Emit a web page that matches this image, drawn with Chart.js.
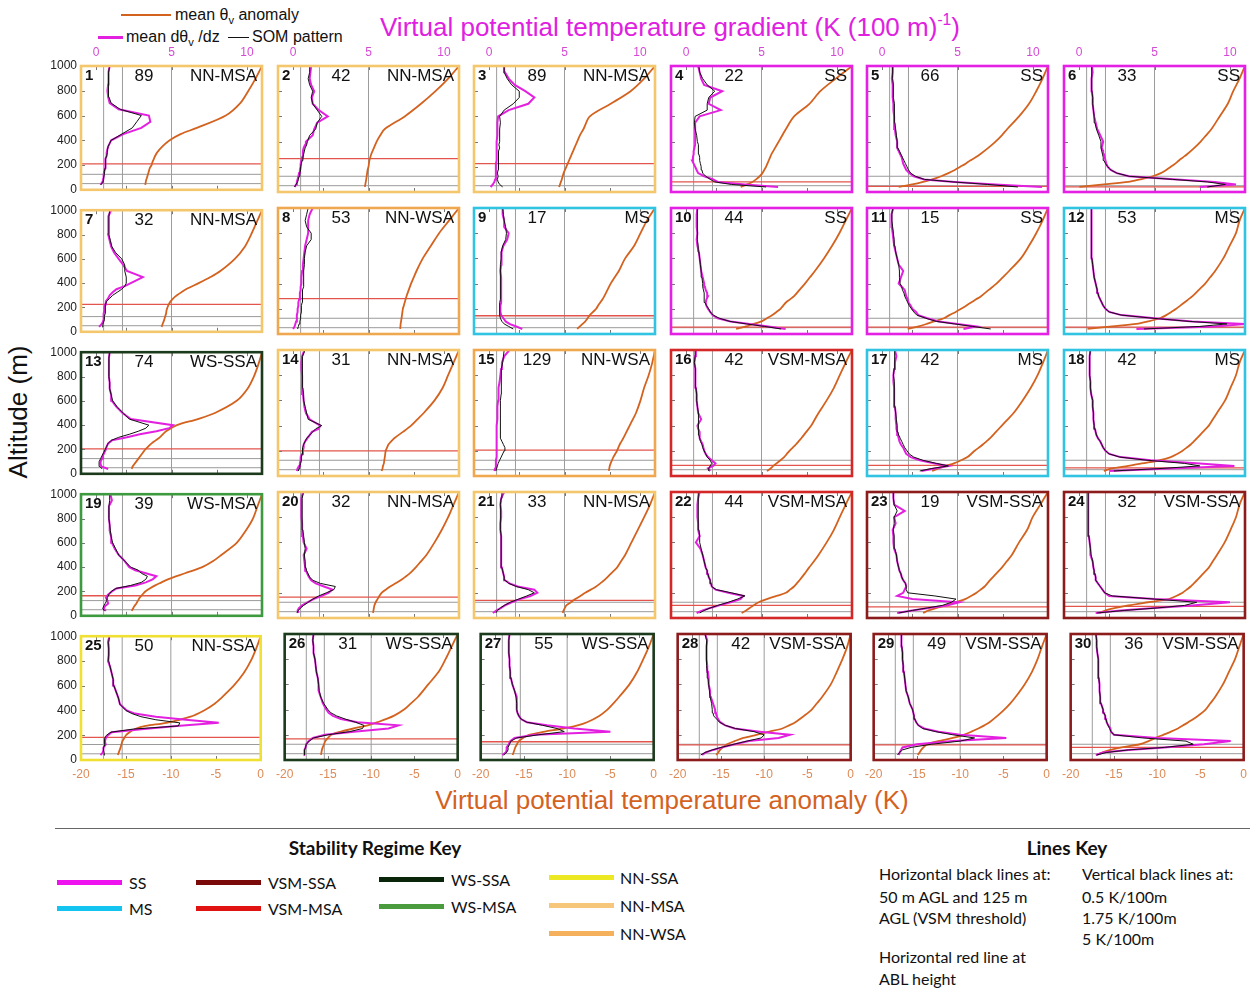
<!DOCTYPE html>
<html>
<head>
<meta charset="utf-8">
<title>Virtual potential temperature SOM profiles</title>
<script src="https://cdn.jsdelivr.net/npm/chart.js@4.4.1/dist/chart.umd.min.js"></script>
<style>
  html, body { margin: 0; padding: 0; background: #fff; }
  body { position: relative; width: 1250px; height: 989px; overflow: hidden; font-family: "Liberation Sans", Arial, sans-serif; color: #111; }
  .txt { position: absolute; white-space: nowrap; line-height: 1; }
  .mid { transform: translateY(-50%); }
  .ctr { transform: translate(-50%, -50%); }
  .swatch { position: absolute; }
  canvas.panel { position: absolute; }
  .key { font-family: Lato, "Open Sans", sans-serif; font-size: 16px; }
  .keyhead { font-family: Lato, "Open Sans", sans-serif; font-size: 19px; font-weight: bold; }
  sub { font-size: 0.7em; vertical-align: -0.4em; line-height: 0; }
  sup { font-size: 0.6em; vertical-align: 0.7em; line-height: 0; }
</style>
</head>
<body>

<!-- top legend -->
<div class="swatch" style="left:121px;top:14px;width:50px;height:2px;background:#d4621f;"></div>
<div class="txt mid" style="left:175px;top:15px;font-size:16px;">mean θ<sub>v</sub> anomaly</div>
<div class="swatch" style="left:98px;top:36px;width:25px;height:3px;background:#e31fe0;"></div>
<div class="txt mid" style="left:126px;top:37px;font-size:16px;">mean dθ<sub>v</sub> /dz</div>
<div class="swatch" style="left:228px;top:37px;width:21px;height:1px;background:#111;"></div>
<div class="txt mid" style="left:252px;top:37px;font-size:16px;">SOM pattern</div>

<div class="txt" style="left:380px;top:14px;font-size:26px;color:#e020e0;">Virtual potential temperature gradient (K (100 m)<sup>-1</sup>)</div>
<div class="txt ctr" style="left:18px;top:412px;font-size:26px;transform:translate(-50%,-50%) rotate(-90deg);">Altitude (m)</div>
<div class="txt ctr" style="left:672px;top:800px;font-size:26px;color:#d4621f;">Virtual potential temperature anomaly (K)</div>

<!-- keys -->
<div class="swatch" style="left:55px;top:828px;width:1195px;height:1px;background:#666;"></div>
<div class="txt ctr keyhead" style="left:375px;top:847px;">Stability Regime Key</div>
<div id="regimeKey"></div>
<div class="txt ctr keyhead" style="left:1067px;top:847px;">Lines Key</div>
<div class="txt mid key" style="left:879px;top:874px;">Horizontal black lines at:</div>
<div class="txt mid key" style="left:879px;top:897px;">50 m AGL and 125 m</div>
<div class="txt mid key" style="left:879px;top:918px;">AGL (VSM threshold)</div>
<div class="txt mid key" style="left:879px;top:957px;">Horizontal red line at</div>
<div class="txt mid key" style="left:879px;top:979px;">ABL height</div>
<div class="txt mid key" style="left:1082px;top:874px;">Vertical black lines at:</div>
<div class="txt mid key" style="left:1082px;top:897px;">0.5 K/100m</div>
<div class="txt mid key" style="left:1082px;top:918px;">1.75 K/100m</div>
<div class="txt mid key" style="left:1082px;top:939px;">5 K/100m</div>

<script>
// ---- data ----
const panelCounts = [89, 42, 89, 22, 66, 33, 32, 53, 17, 44, 15, 53, 74, 31, 129, 42, 42, 42,
                     39, 32, 33, 44, 19, 32, 50, 31, 55, 42, 49, 36];
const panelRegimes = ['NN-MSA', 'NN-MSA', 'NN-MSA', 'SS', 'SS', 'SS',
                      'NN-MSA', 'NN-WSA', 'MS', 'SS', 'SS', 'MS',
                      'WS-SSA', 'NN-MSA', 'NN-WSA', 'VSM-MSA', 'MS', 'MS',
                      'WS-MSA', 'NN-MSA', 'NN-MSA', 'VSM-MSA', 'VSM-SSA', 'VSM-SSA',
                      'NN-SSA', 'WS-SSA', 'WS-SSA', 'VSM-SSA', 'VSM-SSA', 'VSM-SSA'];
// ABL height (m), red line
const ablHeights = [210, 265, 225, 80, 45, 40, 225, 280, 145, 55, 55, 55,
                    205, 200, 205, 85, 85, 65, 165, 165, 140, 100, 88, 92,
                    183, 168, 145, 120, 120, 100];

const gradientAltitudes = [40, 60, 80, 100, 125, 150, 175, 200, 225, 250, 275, 300, 325, 350,
                           375, 400, 450, 500, 550, 600, 650, 700, 750, 800, 850, 900, 950, 1000];
const anomalyAltitudes = [40, 60, 80, 100, 125, 150, 175, 200, 225, 250, 275, 300, 350, 400,
                          450, 500, 600, 700, 800, 900, 1000];

// mean dθv/dz (K/100 m) per panel, at gradientAltitudes
const meanGradient = [
  [0.3,0.4,0.45,0.5, 0.5,0.55,0.6,0.6, 0.6,0.65,0.7,0.7, 0.75,0.8,0.9,1.0, 1.8,3.0,3.6,3.5, 1.5,0.9,0.8,0.75, 0.8,0.8,0.85,0.9],
  [0.1,0.2,0.25,0.3, 0.35,0.4,0.45,0.5, 0.5,0.55,0.6,0.65, 0.65,0.7,0.8,0.85, 1.3,1.4,1.6,2.3, 1.7,1.3,1.25,1.4, 1.2,1.1,1.15,1.2],
  [0.1,0.25,0.35,0.4, 0.45,0.45,0.45,0.45, 0.45,0.5,0.5,0.5, 0.5,0.5,0.5,0.5, 0.55,0.55,0.55,0.6, 1.3,2.6,3.0,2.4, 1.7,1.3,1.05,1.0],
  [6.1,3.9,2.1,1.8, 1.2,0.8,0.7,0.6, 0.5,0.4,0.45,0.5, 0.5,0.55,0.6,0.6, 0.6,0.6,0.6,0.9, 2.3,1.5,1.6,2.4, 1.2,1.0,0.9,0.8],
  [10.6,7.5,4.8,2.8, 2.1,1.8,1.6,1.5, 1.4,1.35,1.3,1.2, 1.1,1.0,1.0,1.0, 0.9,0.85,0.8,0.8, 0.75,0.75,0.7,0.7, 0.7,0.65,0.7,0.7],
  [8.0,10.4,9.0,6.5, 3.3,2.5,2.1,1.9, 1.8,1.75,1.7,1.65, 1.6,1.5,1.55,1.6, 1.4,1.2,1.1,1.0, 0.95,0.9,0.9,0.85, 0.85,0.8,0.9,0.85],
  [0.2,0.35,0.45,0.5, 0.5,0.5,0.55,0.55, 0.6,0.65,0.8,0.9, 1.1,1.35,1.9,2.3, 3.1,2.05,1.8,1.5, 1.2,1.0,0.9,0.8, 0.8,0.85,0.8,1.0],
  [0.0,0.1,0.15,0.2, 0.25,0.25,0.3,0.3, 0.35,0.35,0.4,0.45, 0.45,0.5,0.5,0.55, 0.55,0.6,0.65,0.7, 0.75,0.8,0.9,1.0, 1.0,1.0,1.1,1.3],
  [2.2,1.8,1.35,1.1, 0.95,0.8,0.75,0.75, 0.75,0.8,0.8,0.8, 0.8,0.8,0.8,0.8, 0.8,0.75,0.8,0.8, 0.85,0.95,1.2,1.3, 1.0,1.0,0.9,0.9],
  [6.6,5.45,4.2,2.95, 2.1,1.75,1.6,1.45, 1.35,1.3,1.35,1.45, 1.4,1.3,1.25,1.2, 1.1,1.0,0.95,0.9, 0.85,0.75,0.7,0.75, 0.7,0.7,0.7,0.75],
  [5.4,6.25,5.0,3.75, 3.0,2.4,2.25,2.0, 1.9,1.75,1.7,1.6, 1.55,1.5,1.3,1.1, 1.25,1.4,1.1,1.0, 0.9,0.8,0.75,0.7, 0.65,0.6,0.65,0.75],
  [3.8,9.0,11.0,7.5, 5.0,2.8,2.0,1.75, 1.6,1.5,1.4,1.3, 1.25,1.2,1.15,1.1, 1.0,0.95,0.9,0.85, 0.85,0.8,0.8,0.8, 0.85,0.85,0.8,0.85],
  [0.8,0.35,0.3,0.3, 0.4,0.45,0.55,0.65, 0.7,0.8,1.05,2.05, 2.9,4.0,4.85,5.1, 2.3,1.75,1.35,1.05, 1.0,0.9,0.9,0.85, 0.85,0.85,0.85,0.9],
  [0.25,0.3,0.4,0.45, 0.5,0.5,0.6,0.65, 0.7,0.7,0.8,0.95, 1.1,1.25,1.7,1.8, 1.1,0.85,0.75,0.7, 0.65,0.6,0.6,0.6, 0.55,0.55,0.6,0.75],
  [0.35,0.4,0.45,0.45, 0.45,0.5,0.5,0.5, 0.5,0.5,0.5,0.5, 0.5,0.5,0.5,0.5, 0.55,0.55,0.55,0.6, 0.6,0.65,0.7,0.75, 0.8,0.85,1.0,1.35],
  [1.6,1.45,1.8,1.95, 1.7,1.45,1.3,1.2, 1.15,1.1,1.0,0.9, 0.9,0.9,0.8,0.75, 1.0,0.8,0.75,0.7, 0.7,0.65,0.65,0.6, 0.6,0.55,0.6,0.65],
  [2.6,3.5,4.4,3.5, 2.5,1.9,1.6,1.5, 1.4,1.25,1.15,1.1, 1.05,1.0,0.95,0.95, 0.9,0.9,0.85,0.8, 0.8,0.8,0.75,0.75, 0.8,0.85,0.95,0.85],
  [2.0,6.0,10.3,8.0, 4.75,2.75,2.0,1.75, 1.6,1.5,1.4,1.25, 1.15,1.1,1.05,1.0, 0.95,0.95,0.9,0.9, 0.8,0.75,0.75,0.7, 0.7,0.7,0.7,0.75],
  [0.65,0.5,0.6,0.8, 0.75,0.65,0.8,1.05, 1.35,2.6,3.3,3.75, 4.0,3.3,2.6,2.2, 1.9,1.5,1.25,1.05, 1.0,0.9,0.9,0.85, 0.85,0.85,1.05,0.95],
  [0.35,0.3,0.4,0.6, 0.95,1.35,1.9,2.35, 2.6,2.05,1.5,1.2, 1.05,0.95,0.85,0.8, 0.75,0.7,0.9,0.7, 0.65,0.6,0.6,0.55, 0.55,0.55,0.55,0.65],
  [0.25,0.5,0.8,1.05, 1.5,2.05,2.75,3.2, 3.0,1.9,1.35,1.05, 1.0,0.95,0.9,0.85, 0.8,0.8,0.8,0.8, 0.8,0.75,0.75,0.8, 0.8,0.75,0.8,1.0],
  [0.7,1.1,1.6,2.2, 2.95,3.6,3.8,2.8, 1.95,1.7,1.65,1.6, 1.5,1.45,1.4,1.3, 1.2,1.1,0.95,0.65, 0.9,0.8,0.8,0.75, 0.75,0.75,0.8,0.9],
  [1.0,2.0,3.1,4.3, 5.1,2.0,1.0,1.4, 1.5,1.6,1.55,1.4, 1.3,1.25,1.15,1.1, 1.0,0.95,0.8,0.75, 0.75,0.7,0.9,0.8, 1.5,0.8,0.75,0.75],
  [1.1,2.75,5.0,7.5, 10.0,5.0,2.0,1.7, 1.55,1.4,1.25,1.1, 1.1,1.05,1.0,0.95, 0.9,0.75,0.75,0.7, 0.65,0.6,0.6,0.6, 0.6,0.6,0.6,0.65],
  [0.3,0.45,0.5,0.5, 0.65,0.6,0.65,0.8, 1.05,3.2,5.4,8.2, 6.0,4.0,2.6,2.05, 1.6,1.5,1.35,1.2, 1.15,1.05,0.95,0.8, 0.85,0.85,0.8,0.9],
  [0.4,0.35,0.4,0.45, 0.5,0.65,0.95,1.8, 3.8,6.2,6.9,4.05, 2.9,2.35,2.05,1.9, 1.65,1.5,1.35,1.35, 1.3,1.2,1.15,1.1, 1.0,1.0,0.95,1.0],
  [0.5,0.75,0.8,0.8, 0.95,1.05,1.35,2.75, 8.0,5.5,3.6,2.2, 1.8,1.65,1.55,1.5, 1.5,1.5,1.35,1.2, 1.1,1.05,1.0,1.0, 0.95,0.95,0.95,1.0],
  [0.7,0.95,1.45,2.1, 2.95,3.95,6.0,6.8, 4.7,2.95,2.3,1.95, 1.8,1.7,1.65,1.6, 1.45,1.3,1.25,1.15, 1.15,1.1,1.05,1.0, 1.0,1.0,1.05,0.9],
  [0.75,0.8,0.9,1.0, 2.0,4.5,8.2,5.0, 3.5,2.5,2.1,1.95, 1.85,1.8,1.75,1.7, 1.5,1.4,1.25,1.2, 1.15,1.1,1.05,1.0, 1.0,0.95,0.95,0.9],
  [0.75,1.25,3.0,5.5, 8.25,10.1,5.0,2.0, 1.8,1.75,1.6,1.5, 1.45,1.4,1.3,1.25, 1.1,1.05,1.0,1.0, 0.95,0.95,0.9,0.9, 0.85,0.8,0.8,0.75]
];

// SOM pattern dθv/dz (K/100 m) per panel, at gradientAltitudes
const somPattern = [
  [0.3,0.45,0.5,0.5, 0.55,0.55,0.6,0.6, 0.65,0.65,0.7,0.75, 0.75,0.8,0.9,1.0, 1.7,2.4,2.7,3.0, 1.6,1.0,0.85,0.8, 0.8,0.85,0.85,0.9],
  [0.1,0.2,0.3,0.35, 0.4,0.45,0.5,0.5, 0.55,0.6,0.65,0.7, 0.75,0.8,0.9,0.95, 1.1,1.5,1.6,1.9, 1.6,1.3,1.2,1.3, 1.1,1.0,1.1,1.1],
  [0.9,0.7,0.6,0.55, 0.6,0.55,0.6,0.6, 0.65,0.6,0.65,0.6, 0.65,0.7,0.65,0.7, 0.7,0.7,0.75,0.7, 1.0,1.6,2.0,2.0, 1.5,1.2,1.0,1.0],
  [5.3,3.0,1.9,1.6, 1.3,1.1,1.05,1.0, 0.95,0.9,0.9,0.85, 0.85,0.8,0.8,0.75, 0.7,0.6,0.55,0.6, 1.4,1.4,1.5,1.9, 1.4,1.1,0.9,0.85],
  [9.0,7.0,4.7,2.8, 2.2,1.9,1.75,1.65, 1.55,1.45,1.35,1.25, 1.15,1.05,1.0,1.0, 0.95,0.9,0.85,0.85, 0.8,0.8,0.75,0.75, 0.75,0.7,0.7,0.7],
  [8.5,9.7,8.5,6.2, 3.3,2.5,2.1,1.9, 1.75,1.65,1.6,1.55, 1.5,1.45,1.45,1.45, 1.3,1.15,1.05,1.0, 0.95,0.9,0.9,0.85, 0.85,0.8,0.85,0.85],
  [0.4,0.45,0.5,0.55, 0.55,0.6,0.6,0.6, 0.65,0.7,0.9,1.1, 1.4,1.7,1.9,2.0, 2.0,1.9,1.9,1.7, 1.3,1.05,0.95,0.85, 0.85,0.85,0.85,0.9],
  [0.3,0.35,0.4,0.45, 0.5,0.5,0.55,0.55, 0.55,0.6,0.6,0.6, 0.65,0.65,0.7,0.7, 0.7,0.7,0.75,0.75, 0.8,0.9,1.2,1.2, 0.9,0.8,0.9,1.0],
  [1.6,1.3,1.0,0.85, 0.75,0.7,0.7,0.7, 0.7,0.7,0.75,0.75, 0.75,0.75,0.75,0.75, 0.75,0.75,0.75,0.8, 0.8,0.9,1.1,1.15, 1.1,1.0,0.95,0.9],
  [6.3,5.2,4.0,2.9, 2.2,1.8,1.6,1.5, 1.35,1.25,1.2,1.2, 1.2,1.15,1.1,1.1, 1.05,1.0,0.95,0.9, 0.85,0.8,0.75,0.75, 0.75,0.75,0.75,0.75],
  [7.2,6.0,4.8,3.6, 2.9,2.3,2.1,1.95, 1.8,1.7,1.6,1.5, 1.45,1.35,1.3,1.2, 1.15,1.15,1.1,1.0, 0.9,0.85,0.8,0.75, 0.7,0.65,0.65,0.7],
  [4.3,8.0,9.8,7.3, 4.9,2.8,2.0,1.75, 1.6,1.5,1.4,1.3, 1.25,1.2,1.15,1.1, 1.0,0.95,0.9,0.85, 0.85,0.8,0.8,0.8, 0.8,0.85,0.8,0.8],
  [0.4,0.25,0.2,0.2, 0.3,0.4,0.5,0.6, 0.7,0.8,1.0,1.5, 2.2,2.8,3.3,3.5, 2.2,1.8,1.4,1.1, 1.0,0.9,0.9,0.85, 0.85,0.85,0.85,0.9],
  [0.35,0.4,0.45,0.5, 0.55,0.55,0.6,0.6, 0.65,0.7,0.8,0.9, 1.1,1.3,1.5,1.9, 1.0,0.9,0.8,0.7, 0.7,0.65,0.65,0.6, 0.6,0.6,0.65,0.8],
  [0.45,0.5,0.55,0.6, 0.7,0.8,0.9,1.0, 1.05,0.95,0.85,0.75, 0.75,0.75,0.75,0.75, 0.75,0.75,0.75,0.75, 0.8,0.8,0.8,0.8, 0.85,0.9,0.95,1.0],
  [1.5,1.5,1.6,1.7, 1.6,1.4,1.3,1.2, 1.1,1.05,0.95,0.9, 0.85,0.85,0.8,0.8, 0.85,0.8,0.75,0.7, 0.7,0.65,0.65,0.6, 0.6,0.55,0.6,0.6],
  [2.5,3.3,4.4,3.6, 2.7,2.1,1.8,1.65, 1.5,1.4,1.3,1.2, 1.1,1.05,1.0,1.0, 0.95,0.9,0.85,0.85, 0.8,0.8,0.8,0.75, 0.8,0.8,0.85,0.85],
  [2.3,5.5,8.0,7.0, 4.5,2.7,2.0,1.75, 1.6,1.5,1.4,1.25, 1.15,1.1,1.05,1.0, 0.95,0.95,0.9,0.9, 0.8,0.75,0.75,0.7, 0.7,0.7,0.7,0.75],
  [0.55,0.45,0.5,0.6, 0.7,0.75,0.85,1.0, 1.3,2.3,3.0,3.3, 3.4,3.0,2.8,2.3, 1.9,1.5,1.3,1.1, 1.0,0.95,0.9,0.85, 0.85,0.85,0.9,0.9],
  [0.25,0.35,0.5,0.7, 1.0,1.3,1.7,2.2, 2.7,2.8,1.8,1.3, 1.1,1.0,0.9,0.85, 0.8,0.75,0.8,0.75, 0.7,0.65,0.6,0.6, 0.6,0.6,0.6,0.7],
  [0.45,0.55,0.75,1.0, 1.4,1.95,2.5,3.0, 2.6,1.8,1.3,1.05, 1.0,0.95,0.9,0.85, 0.8,0.8,0.8,0.8, 0.8,0.75,0.75,0.75, 0.75,0.75,0.8,0.85],
  [0.9,1.2,1.6,2.1, 2.8,3.4,3.9,3.0, 2.0,1.7,1.65,1.6, 1.5,1.45,1.4,1.3, 1.2,1.1,1.0,0.9, 0.9,0.85,0.8,0.8, 0.8,0.8,0.8,0.85],
  [1.1,2.0,3.0,4.0, 4.6,4.9,3.5,1.7, 1.6,1.6,1.55,1.4, 1.3,1.25,1.15,1.1, 1.0,0.95,0.85,0.8, 0.8,0.75,0.8,0.8, 1.0,0.8,0.75,0.75],
  [1.2,3.0,5.2,7.0, 7.8,5.0,2.2,1.7, 1.55,1.4,1.25,1.1, 1.1,1.05,1.0,0.95, 0.9,0.8,0.75,0.7, 0.65,0.6,0.6,0.6, 0.6,0.6,0.6,0.65],
  [0.6,0.55,0.5,0.5, 0.6,0.55,0.6,0.7, 1.0,2.5,5.5,5.6, 4.0,3.0,2.4,2.0, 1.6,1.5,1.35,1.2, 1.15,1.05,0.95,0.85, 0.85,0.85,0.85,0.9],
  [0.4,0.35,0.4,0.45, 0.5,0.7,1.0,2.0, 3.5,4.4,4.5,3.9, 3.2,2.6,2.2,2.0, 1.7,1.5,1.4,1.35, 1.3,1.2,1.15,1.1, 1.0,1.0,0.95,1.0],
  [0.6,0.8,0.9,0.9, 1.0,1.1,1.5,3.0, 4.8,4.3,3.3,2.2, 1.8,1.65,1.55,1.5, 1.5,1.45,1.35,1.2, 1.1,1.05,1.0,1.0, 0.95,0.95,0.95,1.0],
  [0.6,0.9,1.4,2.0, 2.9,3.8,4.8,5.0, 4.3,3.0,2.3,1.9, 1.7,1.5,1.45,1.4, 1.35,1.25,1.2,1.15, 1.1,1.05,1.0,1.0, 1.0,1.0,1.0,0.9],
  [0.65,0.8,1.0,1.6, 3.0,5.0,6.0,4.5, 3.3,2.4,2.1,1.95, 1.85,1.8,1.75,1.7, 1.5,1.4,1.25,1.2, 1.15,1.1,1.05,1.0, 1.0,0.95,0.95,0.9],
  [0.8,1.5,3.0,5.5, 7.5,7.0,4.0,2.0, 1.8,1.7,1.6,1.5, 1.45,1.4,1.3,1.25, 1.1,1.05,1.0,1.0, 0.95,0.95,0.9,0.9, 0.85,0.8,0.8,0.75]
];

// mean θv anomaly (K) per panel, at anomalyAltitudes
const meanAnomaly = [
  [-12.9,-12.85,-12.8,-12.7, -12.6,-12.5,-12.4,-12.2, -12.1,-11.95,-11.8,-11.6, -11.0,-10.2,-9.0,-7.2, -4.0,-2.4,-1.5,-0.7, 0],
  [-10.4,-10.35,-10.3,-10.25, -10.2,-10.15,-10.1,-10.0, -9.95,-9.9,-9.8,-9.7, -9.4,-9.1,-8.7,-8.2, -6.0,-4.2,-2.6,-1.2, 0],
  [-10.6,-10.5,-10.4,-10.3, -10.2,-10.1,-9.95,-9.8, -9.65,-9.5,-9.35,-9.2, -8.9,-8.6,-8.3,-7.9, -7.2,-4.9,-2.7,-1.2, 0],
  [-12.3,-11.6,-11.0,-10.6, -10.2,-9.9,-9.7,-9.5, -9.35,-9.2,-9.05,-8.9, -8.5,-8.1,-7.7,-7.3, -6.4,-4.7,-3.5,-1.8, 0],
  [-16.5,-15.0,-13.8,-12.8, -11.8,-11.0,-10.3,-9.7, -9.1,-8.6,-8.0,-7.5, -6.6,-5.8,-5.1,-4.5, -3.2,-2.1,-1.3,-0.6, 0],
  [-18.3,-15.6,-12.9,-11.6, -10.2,-9.3,-8.7,-8.2, -7.7,-7.3,-6.85,-6.4, -5.6,-4.9,-4.3,-3.7, -2.8,-1.9,-1.3,-0.6, 0],
  [-11.1,-11.0,-10.9,-10.8, -10.7,-10.6,-10.55,-10.45, -10.3,-10.1,-9.8,-9.4, -8.4,-7.0,-5.7,-4.6, -3.0,-1.9,-1.2,-0.6, 0],
  [-6.5,-6.47,-6.45,-6.4, -6.35,-6.3,-6.25,-6.2, -6.1,-6.0,-5.9,-5.8, -5.55,-5.3,-5.0,-4.7, -4.0,-3.1,-2.2,-1.1, 0],
  [-8.6,-8.3,-8.0,-7.7, -7.45,-7.2,-6.85,-6.5, -6.3,-6.05,-5.8,-5.6, -5.25,-4.9,-4.45,-4.0, -3.3,-2.3,-1.6,-0.9, 0],
  [-12.8,-11.7,-10.9,-10.0, -9.4,-8.8,-8.35,-7.9, -7.6,-7.3,-6.85,-6.4, -5.8,-5.2,-4.65,-4.1, -3.1,-2.2,-1.4,-0.7, 0],
  [-15.5,-14.3,-13.4,-12.6, -11.5,-10.9,-10.2,-9.6, -9.05,-8.5,-7.95,-7.4, -6.55,-5.7,-5.0,-4.3, -3.0,-2.1,-1.3,-0.6, 0],
  [-17.4,-14.7,-12.0,-10.7, -9.4,-8.7,-8.15,-7.6, -7.15,-6.7,-6.25,-5.8, -5.1,-4.4,-3.85,-3.3, -2.4,-1.7,-1.0,-0.6, 0],
  [-14.4,-14.3,-14.1,-13.9, -13.65,-13.4,-13.15,-12.9, -12.55,-12.2,-11.75,-11.3, -10.6,-9.4,-7.1,-5.2, -2.8,-1.6,-0.9,-0.4, 0],
  [-8.55,-8.45,-8.4,-8.3, -8.25,-8.2,-8.15,-8.1, -7.95,-7.8,-7.5,-7.15, -6.2,-5.3,-4.6,-3.9, -2.7,-1.8,-1.2,-0.6, 0],
  [-5.1,-5.05,-5.0,-4.9, -4.75,-4.6,-4.4,-4.2, -4.05,-3.9,-3.7,-3.5, -3.15,-2.8,-2.45,-2.1, -1.6,-1.2,-0.7,-0.3, 0],
  [-9.4,-9.0,-8.7,-8.35, -7.9,-7.5,-7.2,-6.9, -6.55,-6.2,-5.9,-5.6, -5.05,-4.5,-4.1,-3.7, -2.8,-2.0,-1.35,-0.7, 0],
  [-12.8,-12.1,-11.3,-10.4, -9.6,-8.9,-8.5,-8.1, -7.65,-7.2,-6.8,-6.4, -5.75,-5.1,-4.45,-3.8, -2.8,-1.9,-1.15,-0.55, 0],
  [-15.6,-14.7,-12.9,-11.4, -9.4,-8.2,-7.5,-6.9, -6.45,-6.0,-5.65,-5.3, -4.65,-4.0,-3.55,-3.1, -2.2,-1.6,-1.0,-0.6, 0],
  [-14.4,-14.25,-14.1,-13.9, -13.7,-13.5,-13.2,-12.9, -12.4,-11.8,-11.1,-10.4, -8.5,-6.6,-5.4,-4.5, -2.8,-1.8,-1.0,-0.5, 0],
  [-9.5,-9.45,-9.4,-9.35, -9.2,-9.0,-8.8,-8.55, -8.1,-7.6,-7.0,-6.45, -5.5,-4.8,-4.2,-3.6, -2.7,-1.9,-1.2,-0.6, 0],
  [-10.2,-10.1,-9.95,-9.8, -9.3,-8.8,-8.25,-7.7, -7.1,-6.5,-6.05,-5.6, -4.9,-4.2,-3.75,-3.3, -2.6,-1.9,-1.2,-0.55, 0],
  [-12.2,-11.7,-11.3,-10.9, -10.3,-9.4,-8.35,-7.3, -6.85,-6.4,-6.1,-5.8, -5.25,-4.75,-4.2,-3.7, -2.8,-2.0,-1.35,-0.7, 0],
  [-13.8,-13.2,-12.3,-11.3, -10.2,-9.15,-8.5,-7.9, -7.45,-7.0,-6.7,-6.4, -5.75,-5.1,-4.55,-4.0, -3.2,-2.3,-1.7,-0.85, 0],
  [-16.1,-15.4,-14.3,-12.9, -10.7,-8.45,-7.6,-6.9, -6.45,-6.0,-5.65,-5.3, -4.65,-4.0,-3.55,-3.1, -2.25,-1.6,-1.0,-0.6, 0],
  [-15.9,-15.8,-15.7,-15.6, -15.5,-15.4,-15.2,-15.0, -14.6,-14.0,-12.8,-10.5, -7.8,-6.3,-5.2,-4.4, -3.0,-1.9,-1.1,-0.5, 0],
  [-15.8,-15.75,-15.7,-15.6, -15.45,-15.3,-15.0,-14.6, -13.5,-12.05,-10.4,-9.25, -7.4,-6.2,-5.4,-4.6, -3.4,-2.2,-1.4,-0.7, 0],
  [-16.3,-16.2,-16.1,-16.0, -15.8,-15.6,-15.1,-14.4, -12.6,-10.5,-8.8,-7.7, -6.3,-5.35,-4.65,-4.0, -2.8,-1.9,-1.2,-0.55, 0],
  [-15.55,-15.3,-15.1,-14.8, -14.3,-13.4,-12.4,-10.9, -9.4,-7.9,-7.1,-6.4, -5.4,-4.5,-3.9,-3.3, -2.3,-1.6,-0.95,-0.4, 0],
  [-14.9,-14.7,-14.5,-14.25, -13.8,-12.55,-10.85,-9.6, -8.7,-7.9,-7.2,-6.6, -5.7,-4.9,-4.2,-3.6, -2.55,-1.7,-1.05,-0.55, 0],
  [-17.0,-16.3,-15.4,-14.1, -12.0,-11.0,-10.2,-9.3, -8.4,-7.6,-7.0,-6.4, -5.3,-4.4,-3.85,-3.3, -2.4,-1.7,-1.0,-0.5, 0]
];

const gradientGuides = [0.5, 1.75, 5];   // vertical black lines (K/100 m)
const altitudeGuides = [50, 125];       // horizontal black lines (m)
const altitudeTicks = [0, 200, 400, 600, 800, 1000];
const gradientTicks = [0, 5, 10];
const anomalyTicks = [-20, -15, -10, -5, 0];

const regimeKeyLeft = ['SS', 'MS'];
const regimeKeyMid = ['VSM-SSA', 'VSM-MSA'];
const regimeKeyWs = ['WS-SSA', 'WS-MSA'];
const regimeKeyNn = ['NN-SSA', 'NN-MSA', 'NN-WSA'];

// ---- styling ----
const ORANGE = '#d4621f';
const MAGENTA = '#e31fe0';
const borderColors = {
  'SS': '#e420e4', 'MS': '#30c4e2', 'VSM-SSA': '#8c1c1c', 'VSM-MSA': '#d42828',
  'WS-SSA': '#1c3a1c', 'WS-MSA': '#3e9a3e', 'NN-SSA': '#f0e032', 'NN-MSA': '#f4c76c', 'NN-WSA': '#f0a850'
};
const keyColors = {
  'SS': '#ee12ee', 'MS': '#14c4f0', 'VSM-SSA': '#7a0a0a', 'VSM-MSA': '#e01212',
  'WS-SSA': '#0a260a', 'WS-MSA': '#4a9a3e', 'NN-SSA': '#ece824', 'NN-MSA': '#f6c77a', 'NN-WSA': '#f5b05c'
};

const COL_LEFT = [81, 278, 474, 671, 867, 1064];
const ROW_TOP = [66, 208, 350, 492, 634];
const PANEL_W = 181, PANEL_H = 126;
const PAD = 9;
const Y_AXIS_W = 36, TOP_AXIS_H = 22, BOTTOM_AXIS_H = 24;

Chart.defaults.font.family = '"Liberation Sans", Arial, sans-serif';

function profile(values, alts) {
  return values.map((v, i) => ({ x: v, y: alts[i] }));
}

// border, inner tick marks and labels of one panel
const panelFrame = {
  id: 'panelFrame',
  afterDatasetsDraw(chart, args, opts) {
    const { ctx, chartArea: a, scales } = chart;
    ctx.save();
    ctx.strokeStyle = '#777';
    ctx.lineWidth = 1;
    ctx.beginPath();
    altitudeTicks.forEach(v => {
      const py = Math.round(scales.y.getPixelForValue(v)) + 0.5;
      ctx.moveTo(a.left, py); ctx.lineTo(a.left + 4, py);
    });
    anomalyTicks.forEach(v => {
      const px = Math.round(scales.x.getPixelForValue(v)) + 0.5;
      ctx.moveTo(px, a.bottom); ctx.lineTo(px, a.bottom - 4);
    });
    gradientTicks.forEach(v => {
      const px = Math.round(scales.xg.getPixelForValue(v)) + 0.5;
      ctx.moveTo(px, a.top); ctx.lineTo(px, a.top + 4);
    });
    ctx.stroke();

    ctx.strokeStyle = opts.color;
    ctx.lineWidth = 2.6;
    ctx.strokeRect(a.left, a.top, a.right - a.left, a.bottom - a.top);
    ctx.fillStyle = '#111';
    ctx.textBaseline = 'middle';
    ctx.font = 'bold 15px "Liberation Sans", Arial, sans-serif';
    ctx.textAlign = 'left';
    ctx.fillText(opts.number, a.left + 4, a.top + 10);
    ctx.font = '17px "Liberation Sans", Arial, sans-serif';
    ctx.textAlign = 'center';
    ctx.fillText(opts.count, a.left + 63, a.top + 10);
    ctx.textAlign = 'right';
    ctx.fillText(opts.regime, a.right - 5, a.top + 10);
    ctx.restore();
  }
};

function fixedTicks(list) {
  return scale => { scale.ticks = list.map(v => ({ value: v })); };
}

panelCounts.forEach((count, i) => {
  const row = Math.floor(i / 6), col = i % 6;
  const showY = col === 0, showTop = row === 0, showBottom = row === 4;
  const padL = PAD + (showY ? Y_AXIS_W : 0);
  const padT = PAD + (showTop ? TOP_AXIS_H : 0);
  const w = PANEL_W + padL + PAD;
  const h = PANEL_H + padT + PAD + (showBottom ? BOTTOM_AXIS_H : 0);

  const canvas = document.createElement('canvas');
  canvas.className = 'panel';
  canvas.width = w;
  canvas.height = h;
  canvas.style.width = w + 'px';
  canvas.style.height = h + 'px';
  canvas.style.left = (COL_LEFT[col] - padL) + 'px';
  canvas.style.top = (ROW_TOP[row] - padT) + 'px';
  document.body.appendChild(canvas);

  const datasets = [];
  gradientGuides.forEach(g => datasets.push({
    data: [{ x: g, y: 0 }, { x: g, y: 1000 }], xAxisID: 'xg',
    borderColor: '#9c9c9c', borderWidth: 1, order: 6
  }));
  altitudeGuides.forEach(alt => datasets.push({
    data: [{ x: -20, y: alt }, { x: 0, y: alt }], xAxisID: 'x',
    borderColor: '#9a9a9a', borderWidth: 1, order: 6
  }));
  datasets.push({
    data: [{ x: -20, y: ablHeights[i] }, { x: 0, y: ablHeights[i] }], xAxisID: 'x',
    borderColor: '#e3544c', borderWidth: 1.3, order: 5
  });
  datasets.push({
    label: 'mean θv anomaly', data: profile(meanAnomaly[i], anomalyAltitudes), xAxisID: 'x',
    borderColor: ORANGE, borderWidth: 1.8, tension: 0.3, order: 3
  });
  datasets.push({
    label: 'mean dθv/dz', data: profile(meanGradient[i], gradientAltitudes), xAxisID: 'xg',
    borderColor: MAGENTA, borderWidth: 2, order: 2
  });
  datasets.push({
    label: 'SOM pattern', data: profile(somPattern[i], gradientAltitudes), xAxisID: 'xg',
    borderColor: '#111', borderWidth: 1, order: 1
  });

  new Chart(canvas, {
    type: 'scatter',
    data: { datasets },
    plugins: [panelFrame],
    options: {
      responsive: false,
      animation: false,
      events: [],
      layout: { padding: { left: PAD, right: PAD, top: PAD, bottom: PAD } },
      datasets: { scatter: { showLine: true, pointRadius: 0, fill: false } },
      plugins: {
        legend: { display: false },
        tooltip: { enabled: false },
        panelFrame: { color: borderColors[panelRegimes[i]], number: String(i + 1), count: String(count), regime: panelRegimes[i] }
      },
      scales: {
        x: {
          type: 'linear', axis: 'x', position: 'bottom', min: -20, max: 0, display: showBottom,
          afterBuildTicks: fixedTicks(anomalyTicks),
          afterFit: s => { if (showBottom) s.height = BOTTOM_AXIS_H; },
          grid: { display: false, drawTicks: false }, border: { display: false },
          ticks: { color: '#dc8a58', font: { size: 12 }, padding: 7, maxRotation: 0, autoSkip: false, callback: v => String(v) }
        },
        xg: {
          type: 'linear', axis: 'x', position: 'top', min: -1, max: 11, display: showTop,
          afterBuildTicks: fixedTicks(gradientTicks),
          afterFit: s => { if (showTop) s.height = TOP_AXIS_H; },
          grid: { display: false, drawTicks: false }, border: { display: false },
          ticks: { color: '#d44ad4', font: { size: 12 }, padding: 6, maxRotation: 0, autoSkip: false, callback: v => String(v) }
        },
        y: {
          type: 'linear', axis: 'y', position: 'left', min: 0, max: 1000, display: showY,
          afterBuildTicks: fixedTicks(altitudeTicks),
          afterFit: s => { if (showY) s.width = Y_AXIS_W; },
          grid: { display: false, drawTicks: false }, border: { display: false },
          ticks: { color: '#222', font: { size: 12 }, padding: 4, autoSkip: false, callback: v => String(v) }
        }
      }
    }
  });
});

// regime key swatches
function addKeyColumn(names, lineLeft, textLeft, rowsY) {
  const holder = document.getElementById('regimeKey');
  names.forEach((name, k) => {
    const y = rowsY[k];
    const sw = document.createElement('div');
    sw.className = 'swatch';
    sw.style.cssText = `left:${lineLeft}px;top:${y - 2.5}px;width:65px;height:5px;background:${keyColors[name]};`;
    holder.appendChild(sw);
    const t = document.createElement('div');
    t.className = 'txt mid key';
    t.style.left = textLeft + 'px';
    t.style.top = (y + 1) + 'px';
    t.textContent = name;
    holder.appendChild(t);
  });
}
addKeyColumn(regimeKeyLeft, 57, 129, [882, 908]);
addKeyColumn(regimeKeyMid, 196, 268, [882, 908]);
addKeyColumn(regimeKeyWs, 379, 451, [879, 906]);
addKeyColumn(regimeKeyNn, 549, 620, [877, 905, 933]);
</script>
</body>
</html>
